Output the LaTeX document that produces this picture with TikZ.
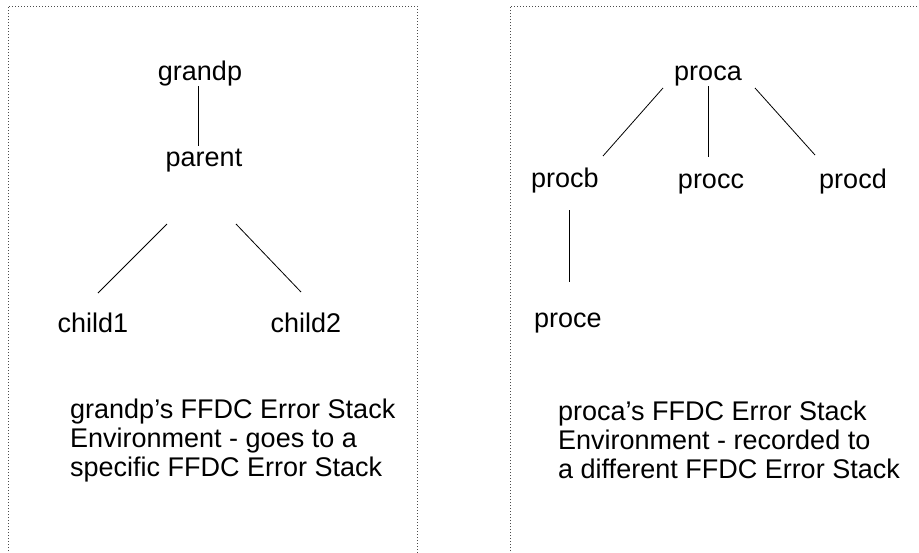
\documentclass[tikz,border=0pt]{standalone}
\usepackage{fontspec}
\setmainfont{Liberation Sans}
\begin{document}
\begin{tikzpicture}[x=1pt,y=-1pt,
  lbl/.style={inner sep=0pt, anchor=base, font=\fontsize{27}{29}\selectfont},
  note/.style={inner sep=0pt, anchor=base west, align=left, font=\fontsize{27}{29}\selectfont},
  frame/.style={draw=black!70, dash pattern=on 1pt off 2pt, line width=1pt},
  link/.style={draw=black, line width=0.8pt}]
\useasboundingbox (0,0) rectangle (919,552);

% dotted panel outlines (open at the bottom / right edge)
\draw[frame] (8,560) -- (8,6) -- (417,6) -- (417,560);
\draw[frame] (510,560) -- (510,6) -- (930,6);

% left tree
\node[lbl] (grandp) at (200,80) {grandp};
\node[lbl] (parent) at (204,166) {parent};
\node[lbl] (child1) at (93,332) {child1};
\node[lbl] (child2) at (306,332) {child2};

\draw[link] ([shift={(-2,6)}]grandp.base) -- ([shift={(-6,-20)}]parent.base);
\draw[link] ([shift={(-37,58)}]parent.base) -- ([shift={(5,-39)}]child1.base);
\draw[link] ([shift={(32,58)}]parent.base) -- ([shift={(-5,-40)}]child2.base);

% caption placed by the baseline of its last line
\node[note] (capL) at (70,476) {grandp’s FFDC Error Stack\\Environment - goes to a\\specific FFDC Error Stack};

% right tree
\node[lbl] (proca) at (708,80) {proca};
\node[lbl] (procb) at (565,187) {procb};
\node[lbl] (procc) at (711,188) {procc};
\node[lbl] (procd) at (853,188) {procd};
\node[lbl] (proce) at (568,327) {proce};

\draw[link] ([shift={(-45,8)}]proca.base) -- ([shift={(38,-31)}]procb.base);
\draw[link] ([shift={(0,6)}]proca.base) -- ([shift={(-3,-31)}]procc.base);
\draw[link] ([shift={(47,8)}]proca.base) -- ([shift={(-38,-33)}]procd.base);
\draw[link] ([shift={(4,23)}]procb.base) -- ([shift={(1,-45)}]proce.base);

\node[note] (capR) at (558,478) {proca’s FFDC Error Stack\\Environment - recorded to\\a different FFDC Error Stack};
\end{tikzpicture}
\end{document}
